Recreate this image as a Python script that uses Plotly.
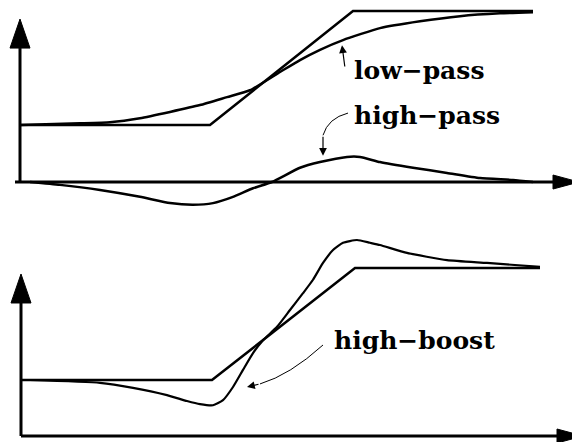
import plotly.graph_objects as go

# time axis is shared by both panels
ramp_t = [0, 19, 33.3, 51.3]
ramp_y = [1, 1, 3, 3]

lowpass_t = [0, 6, 9, 12, 15, 18, 20.7, 23, 26, 28, 30, 32.3, 36, 40, 44, 48, 51.3]
lowpass_y = [1.0, 1.03, 1.05, 1.12, 1.23, 1.35, 1.49, 1.61, 1.93, 2.14, 2.32, 2.49,
             2.70, 2.82, 2.91, 2.96, 2.98]

highpass_t = [1, 4, 8, 12, 15, 17.3, 19.3, 21.3, 23.3, 25.2, 28, 30, 32.7, 34, 36,
              39.3, 42.7, 46, 49.3, 51.3]
highpass_y = [0, -0.05, -0.14, -0.26, -0.37, -0.40, -0.37, -0.26, -0.11, 0, 0.25,
              0.35, 0.44, 0.44, 0.35, 0.25, 0.16, 0.07, 0.035, 0]

ramp2_t = [0.1, 19.2, 33.5, 52]
ramp2_y = [1, 1, 3, 3]

boost_t = [1, 8, 11.3, 14.7, 16.7, 18, 19.3, 20.3, 21.3, 22.3, 23.3, 24.3, 25.7, 27,
           28.3, 29.3, 30.3, 31.3, 32.3, 33.7, 35, 36, 38.7, 42.7, 46.7, 52]
boost_y = [1.0, 0.95, 0.86, 0.73, 0.625, 0.57, 0.55, 0.64, 0.875, 1.18, 1.48, 1.71,
           1.95, 2.25, 2.55, 2.79, 3.09, 3.32, 3.45, 3.50, 3.45, 3.41, 3.27, 3.14,
           3.09, 3.02]

labels = ["low−pass", "high−pass", "high−boost"]

BLACK = "black"
LW = 2.5

fig = go.Figure()


def add_curve(t, y, panel, width=LW):
    fig.add_trace(go.Scatter(
        x=t, y=y, mode="lines",
        line=dict(color=BLACK, width=width, shape="spline", smoothing=0.5),
        xaxis="x" if panel == 1 else "x2",
        yaxis="y" if panel == 1 else "y2",
        hoverinfo="skip",
        showlegend=False
    ))


def add_ramp(t, y, panel):
    fig.add_trace(go.Scatter(
        x=t, y=y, mode="lines",
        line=dict(color=BLACK, width=LW),
        xaxis="x" if panel == 1 else "x2",
        yaxis="y" if panel == 1 else "y2",
        hoverinfo="skip",
        showlegend=False
    ))


def add_axes(panel, x0, x1, ytop):
    xr = "x" if panel == 1 else "x2"
    yr = "y" if panel == 1 else "y2"
    # axis lines
    fig.add_shape(type="line", xref=xr, yref=yr, x0=x0, x1=x1, y0=0, y1=0,
                  line=dict(color=BLACK, width=3))
    fig.add_shape(type="line", xref=xr, yref=yr, x0=max(x0, 0), x1=max(x0, 0),
                  y0=0, y1=ytop, line=dict(color=BLACK, width=3))
    # arrow heads
    fig.add_shape(type="path", xref=xr, yref=yr, xsizemode="pixel", ysizemode="pixel",
                  xanchor=max(x0, 0), yanchor=ytop,
                  path="M -10 0 L 10 0 L 0 29 Z",
                  fillcolor=BLACK, line=dict(color=BLACK, width=1))
    fig.add_shape(type="path", xref=xr, yref=yr, xsizemode="pixel", ysizemode="pixel",
                  xanchor=x1, yanchor=0,
                  path="M 0 -7 L 0 7 L 26 0 Z",
                  fillcolor=BLACK, line=dict(color=BLACK, width=1))


# top panel
add_axes(1, -0.5, 53.3, 2.35)
add_ramp(ramp_t, ramp_y, 1)
add_curve(lowpass_t, lowpass_y, 1)
add_curve(highpass_t, highpass_y, 1)

# bottom panel
add_axes(2, 0.1, 53.7, 2.375)
add_ramp(ramp2_t, ramp2_y, 2)
add_curve(boost_t, boost_y, 2, width=2.2)

label_font = dict(family="DejaVu Serif", size=25, color=BLACK, weight="bold")

fig.add_annotation(x=33.2, y=1.96, xref="x", yref="y", text=labels[0],
                   showarrow=False, xanchor="left", yanchor="middle", font=label_font)
fig.add_annotation(x=33.2, y=1.16, xref="x", yref="y", text=labels[1],
                   showarrow=False, xanchor="left", yanchor="middle", font=label_font)
fig.add_annotation(x=31.2, y=1.70, xref="x2", yref="y2", text=labels[2],
                   showarrow=False, xanchor="left", yanchor="middle", font=label_font)

# pointers
fig.add_annotation(x=32.2, y=2.40, ax=32.5, ay=2.0, xref="x", yref="y",
                   axref="x", ayref="y", text="", showarrow=True,
                   arrowhead=2, arrowwidth=1.2, arrowsize=1.3, arrowcolor=BLACK)

fig.add_shape(type="path", xref="x", yref="y",
              path="M 32.8 1.21 Q 30.8 1.12 30.3 0.82",
              line=dict(color=BLACK, width=1))
fig.add_annotation(x=30.3, y=0.46, ax=30.3, ay=0.82, xref="x", yref="y",
                   axref="x", ayref="y", text="", showarrow=True,
                   arrowhead=2, arrowwidth=1.2, arrowsize=1.3, arrowcolor=BLACK)

fig.add_shape(type="path", xref="x2", yref="y2",
              path="M 30.3 1.625 Q 27 1.09 24.0 0.93",
              line=dict(color=BLACK, width=1))
fig.add_annotation(x=22.7, y=0.875, ax=24.0, ay=0.93, xref="x2", yref="y2",
                   axref="x2", ayref="y2", text="", showarrow=True,
                   arrowhead=2, arrowwidth=1.2, arrowsize=1.3, arrowcolor=BLACK)

# page body adds an 8px margin, so the figure is 8px smaller each way
fig.update_layout(
    width=572,
    height=434,
    margin=dict(l=0, r=0, t=0, b=0),
    paper_bgcolor="white",
    plot_bgcolor="white",
    showlegend=False,
    xaxis=dict(domain=[0, 1], range=[-1.2, 56], visible=False, anchor="y"),
    yaxis=dict(domain=[0.5092, 1], range=[-0.684, 3.053], visible=False, anchor="x"),
    xaxis2=dict(domain=[0, 1], range=[-1.2, 56], visible=False, anchor="y2"),
    yaxis2=dict(domain=[0, 0.5092], range=[-0.107, 3.839], visible=False, anchor="x2"),
)

fig.write_html("out.html")
